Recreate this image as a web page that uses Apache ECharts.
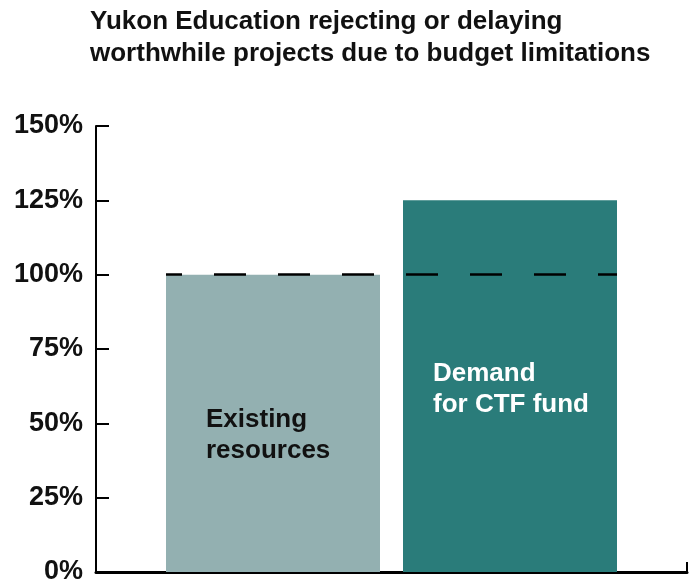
<!DOCTYPE html>
<html>
<head>
<meta charset="utf-8">
<script src="https://cdn.jsdelivr.net/npm/echarts@6/dist/echarts.min.js"></script>
<style>
  html, body { margin: 0; padding: 0; background: #fff; }
  #chart { width: 692px; height: 586px; }
</style>
</head>
<body>
<div id="chart"></div>
<script>
// Chart data
const barLabels = ['Existing\nresources', 'Demand\nfor CTF fund'];
const barValues = [100, 125];
const barColors = ['#93b0b1', '#2a7c7a'];
const labelColors = ['#111111', '#ffffff'];
const labelOffsets = [[40, 130], [30, 158]];
const referenceLevel = 100;
const yTicks = { min: 0, max: 150, step: 25 };

const FONT = '"Liberation Sans", Arial, Helvetica, sans-serif';

const chart = echarts.init(document.getElementById('chart'));

const series = barValues.map((v, i) => ({
    name: barLabels[i],
    type: 'bar',
    xAxisIndex: 0,
    yAxisIndex: 0,
    data: [v],
    barWidth: 214,
    barGap: '10.75%',
    itemStyle: { color: barColors[i] },
    label: {
        show: true,
        position: labelOffsets[i],
        formatter: barLabels[i],
        color: labelColors[i],
        fontFamily: FONT,
        fontSize: 26,
        fontWeight: 'bold',
        lineHeight: 31,
        align: 'left',
        verticalAlign: 'top'
    },
    emphasis: { disabled: true },
    silent: true
}));

// dashed reference line across both bars
series[series.length - 1].markLine = {
    silent: true,
    symbol: 'none',
    label: { show: false },
    lineStyle: {
        color: '#000',
        width: 2.5,
        type: [32, 32],
        dashOffset: 16
    },
    data: [{ yAxis: referenceLevel }]
};

const option = {
    animation: false,
    backgroundColor: '#fff',
    title: {
        text: 'Yukon Education rejecting or delaying\nworthwhile projects due to budget limitations',
        left: 90,
        top: 6,
        padding: 0,
        textStyle: {
            fontFamily: FONT,
            fontSize: 26,
            fontWeight: 'bold',
            lineHeight: 32,
            color: '#111'
        }
    },
    grid: [
        { left: 166, right: 75, top: 126, bottom: 14 },
        { left: 96, right: 5, top: 126, bottom: 14 }
    ],
    xAxis: [
        {
            type: 'category',
            gridIndex: 0,
            data: [''],
            show: false
        },
        {
            type: 'value',
            gridIndex: 1,
            min: 0,
            max: 1,
            interval: 1,
            axisLine: { show: true, lineStyle: { color: '#000', width: 3 } },
            axisTick: { show: true, inside: true, length: 10, lineStyle: { color: '#000', width: 2 } },
            axisLabel: { show: false },
            splitLine: { show: false }
        }
    ],
    yAxis: [
        {
            type: 'value',
            gridIndex: 0,
            min: yTicks.min,
            max: yTicks.max,
            interval: yTicks.step,
            show: false
        },
        {
            type: 'value',
            gridIndex: 1,
            min: yTicks.min,
            max: yTicks.max,
            interval: yTicks.step,
            axisLine: { show: true, lineStyle: { color: '#000', width: 2 } },
            axisTick: { show: true, inside: true, length: 13, lineStyle: { color: '#000', width: 2 } },
            axisLabel: {
                formatter: '{value}%',
                margin: 13,
                padding: [4, 0, 0, 0],
                fontFamily: FONT,
                fontSize: 27,
                fontWeight: 'bold',
                color: '#111'
            },
            splitLine: { show: false }
        }
    ],
    series: series
};

chart.setOption(option);
</script>
</body>
</html>
